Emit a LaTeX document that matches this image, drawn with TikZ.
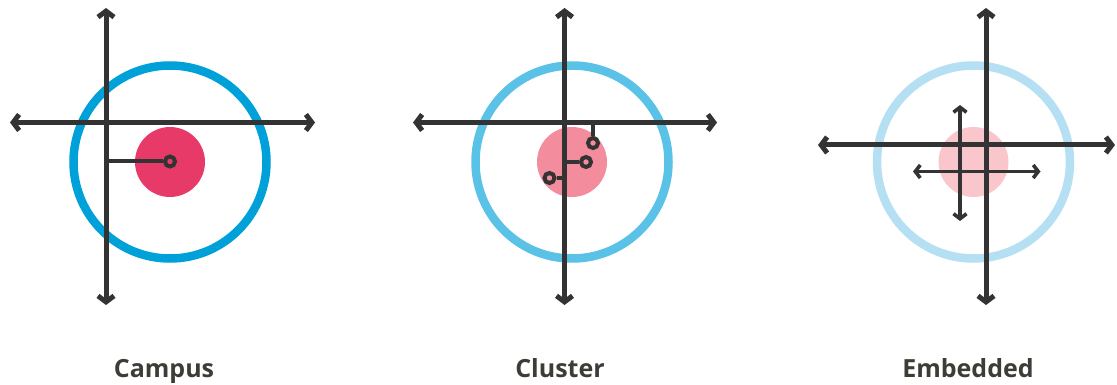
\documentclass[tikz,border=0pt]{standalone}
\usepackage{fontspec}
\setmainfont{Open Sans}
\usetikzlibrary{arrows.meta}

\definecolor{axisgray}{HTML}{333333}
\definecolor{labelgray}{HTML}{3D3D38}
\definecolor{ringA}{HTML}{00A0D8}
\definecolor{ringB}{HTML}{5BC2E7}
\definecolor{ringC}{HTML}{B5DFF3}
\definecolor{coreA}{HTML}{E83A68}
\definecolor{coreB}{HTML}{F38C9D}
\definecolor{coreC}{HTML}{F9C6CC}

\tikzset{
  axis/.style={draw=axisgray,line width=5pt,{Straight Barb[length=6pt,width=16pt]}-{Straight Barb[length=6pt,width=16pt]}},
  subaxis/.style={draw=axisgray,line width=3.6pt,{Straight Barb[length=5pt,width=13pt]}-{Straight Barb[length=5pt,width=13pt]}},
  ring/.style={circle,draw,line width=8.5pt,minimum size=193pt,inner sep=0pt},
  core/.style={circle,minimum size=70pt,inner sep=0pt},
  link/.style={draw=axisgray,line width=4pt},
  pin/.style={circle,draw=axisgray,line width=4pt,minimum size=10pt,inner sep=0pt},
  caption/.style={text=labelgray,font=\bfseries\fontsize{25}{30}\selectfont,anchor=base}
}

\begin{document}
\begin{tikzpicture}[x=1pt,y=-1pt]
  \useasboundingbox (0,0) rectangle (1117,385);

  % Campus
  \node[ring,draw=ringA] (ring1) at (170,162) {};
  \node[core,fill=coreA] (core1) at (170,162) {};
  \draw[axis] (106,305) -- (106,8);
  \draw[axis] (10,122.5) -- (315,122.5);
  \node[pin] (pin1) at (170,161.5) {};
  \coordinate (hook1) at (106,161.5);
  \draw[link] (hook1) -- (pin1);
  \node[caption] (lab1) at (164,377) {Campus};

  % Cluster
  \node[ring,draw=ringB] (ring2) at (572,162) {};
  \node[core,fill=coreB] (core2) at (572,162) {};
  \draw[axis] (564.5,305) -- (564.5,8);
  \draw[axis] (413,122.5) -- (717,122.5);
  \node[pin] (pin2a) at (593,143) {};
  \node[pin] (pin2b) at (586,162) {};
  \node[pin] (pin2c) at (549.5,178) {};
  \coordinate (hook2a) at (593,122.5);
  \coordinate (hook2b) at (564.5,162);
  \coordinate (hook2c) at (564.5,178);
  \draw[link] (hook2a) -- (pin2a);
  \draw[link] (hook2b) -- (pin2b);
  \draw[link] (hook2c) -- (pin2c);
  \node[caption] (lab2) at (560,377) {Cluster};

  % Embedded
  \node[ring,draw=ringC] (ring3) at (973.5,162) {};
  \node[core,fill=coreC] (core3) at (973.5,162) {};
  \draw[axis] (986,305) -- (986,8);
  \draw[axis] (818,145) -- (1115,145);
  \draw[subaxis] (960,221) -- (960,105);
  \draw[subaxis] (913,171.5) -- (1040.5,171.5);
  \node[caption] (lab3) at (968,377) {Embedded};
\end{tikzpicture}
\end{document}
